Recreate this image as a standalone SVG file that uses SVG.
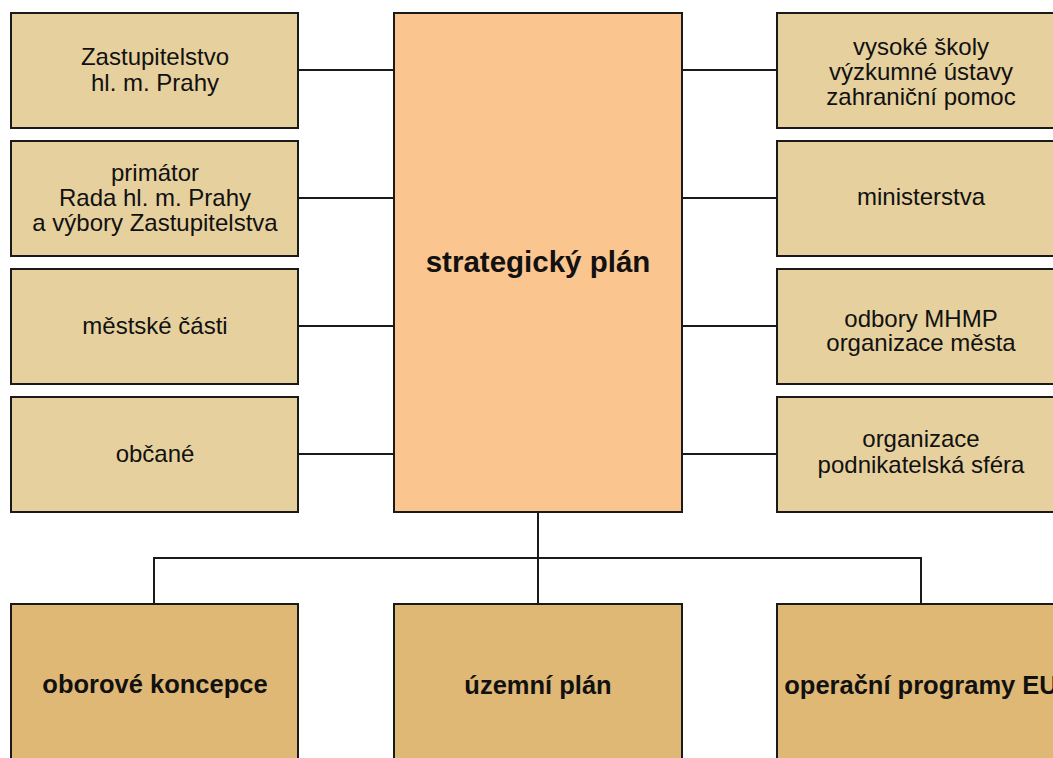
<svg xmlns="http://www.w3.org/2000/svg" width="1053" height="758" viewBox="0 0 1053 758">
<style>
.side{fill:#E6D09D;stroke:#1a1a1a;stroke-width:2}
.main{fill:#FBC58F;stroke:#1a1a1a;stroke-width:2}
.out{fill:#E0B876;stroke:#1a1a1a;stroke-width:2}
.t{font-family:"Liberation Sans",Arial,sans-serif;font-size:24px;fill:#111;text-anchor:middle}
.b{font-family:"Liberation Sans",Arial,sans-serif;font-size:25.5px;font-weight:bold;fill:#111;text-anchor:middle}
.bc{font-size:29.5px}
.c{fill:none;stroke:#1a1a1a;stroke-width:2}
</style>
<rect width="1053" height="758" fill="#fff"/>
<g id="connectors">
<line class="c" x1="298" y1="70" x2="394" y2="70"/>
<line class="c" x1="298" y1="198" x2="394" y2="198"/>
<line class="c" x1="298" y1="326" x2="394" y2="326"/>
<line class="c" x1="298" y1="454" x2="394" y2="454"/>
<line class="c" x1="682" y1="70" x2="777" y2="70"/>
<line class="c" x1="682" y1="198" x2="777" y2="198"/>
<line class="c" x1="682" y1="326" x2="777" y2="326"/>
<line class="c" x1="682" y1="454" x2="777" y2="454"/>
<line class="c" x1="538" y1="512" x2="538" y2="604"/>
<polyline class="c" points="154,604 154,558 921,558 921,604"/>
</g>
<g id="n1"><rect class="side" x="11" y="13" width="287" height="115"/><text class="t" x="155" y="65">Zastupitelstvo</text><text class="t" x="155" y="91">hl. m. Prahy</text></g>
<g id="n2"><rect class="side" x="11" y="141" width="287" height="115"/><text class="t" x="155" y="181">primátor</text><text class="t" x="155" y="206">Rada hl. m. Prahy</text><text class="t" x="155" y="231">a výbory Zastupitelstva</text></g>
<g id="n3"><rect class="side" x="11" y="269" width="287" height="115"/><text class="t" x="155" y="334">městské části</text></g>
<g id="n4"><rect class="side" x="11" y="397" width="287" height="115"/><text class="t" x="155" y="462">občané</text></g>
<g id="center"><rect class="main" x="394" y="13" width="288" height="499"/><text class="b bc" x="538" y="272">strategický plán</text></g>
<g id="r1"><rect class="side" x="777" y="13" width="290" height="115"/><text class="t" x="921" y="55">vysoké školy</text><text class="t" x="921" y="80">výzkumné ústavy</text><text class="t" x="921" y="105">zahraniční pomoc</text></g>
<g id="r2"><rect class="side" x="777" y="141" width="290" height="115"/><text class="t" x="921" y="205">ministerstva</text></g>
<g id="r3"><rect class="side" x="777" y="269" width="290" height="115"/><text class="t" x="921" y="327">odbory MHMP</text><text class="t" x="921" y="351">organizace města</text></g>
<g id="r4"><rect class="side" x="777" y="397" width="290" height="115"/><text class="t" x="921" y="447">organizace</text><text class="t" x="921" y="473">podnikatelská sféra</text></g>
<g id="o1"><rect class="out" x="11" y="604" width="287" height="170"/><text class="b" x="155" y="693">oborové koncepce</text></g>
<g id="o2"><rect class="out" x="394" y="604" width="288" height="170"/><text class="b" x="538" y="694">územní plán</text></g>
<g id="o3"><rect class="out" x="777" y="604" width="290" height="170"/><text class="b" x="921" y="694">operační programy EU</text></g>
</svg>
